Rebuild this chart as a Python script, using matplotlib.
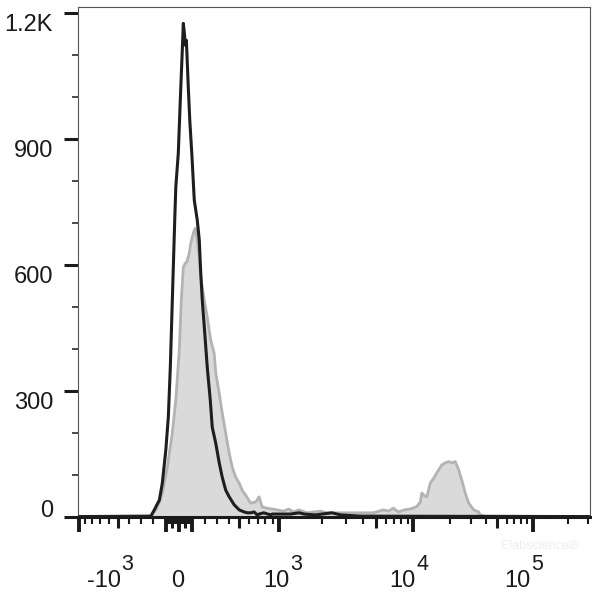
import numpy as np
import matplotlib
matplotlib.use('Agg')
from matplotlib.pyplot import subplots, rcParams
from matplotlib.transforms import ScaledTranslation

rcParams['font.family'] = ['Liberation Sans', 'DejaVu Sans']

# histograms: display channel (0-1024) vs number of events
control_ch = [0, 144, 151, 156, 161, 167, 174, 179, 183, 186, 189, 192, 194, 199,
              204, 207, 209, 211, 213, 215, 216, 219, 222, 226, 231, 237, 241, 244,
              247, 252, 257, 263, 267, 274, 281, 287, 294, 301, 311, 321, 331, 337,
              344, 351, 357, 361, 370, 384, 387, 404, 424, 441, 451, 474, 507, 524,
              564, 1024]
control_counts = [1, 2, 17, 29, 40, 81, 160, 238, 357, 476, 595, 714, 786, 867,
                  1024, 1112, 1176, 1155, 1124, 1136, 1112, 1024, 945, 867, 755, 707, 660, 581,
                  517, 438, 357, 279, 214, 176, 129, 95, 64, 48, 29, 17, 12, 10,
                  10, 12, 5, 7, 10, 5, 7, 7, 7, 10, 7, 5, 10, 5,
                  2, 1]

sample_ch = [0, 144, 154, 160, 167, 172, 177, 182, 187, 194, 201, 205, 209, 213,
             216, 221, 224, 227, 231, 233, 236, 241, 244, 251, 257, 264, 271, 274,
             281, 287, 294, 301, 307, 314, 321, 327, 334, 344, 354, 361, 367, 377,
             387, 397, 410, 420, 430, 440, 457, 484, 497, 524, 557, 590, 610, 620,
             630, 640, 652, 664, 677, 684, 687, 691, 697, 704, 711, 717, 727, 734,
             741, 747, 754, 761, 767, 774, 781, 791, 801, 804, 814, 1024]
sample_counts = [1, 2, 17, 33, 57, 88, 119, 160, 200, 279, 398, 517, 595, 605,
                 607, 629, 652, 667, 683, 688, 667, 619, 571, 517, 476, 421, 390, 343,
                 295, 248, 200, 152, 119, 95, 81, 64, 52, 33, 36, 48, 24, 21,
                 19, 17, 14, 19, 12, 17, 10, 14, 10, 10, 10, 10, 17, 14,
                 21, 12, 17, 19, 25, 36, 57, 52, 48, 81, 93, 105, 124, 129,
                 132, 129, 132, 112, 88, 57, 33, 17, 12, 5, 2, 1]

y_ticks = [0, 300, 600, 900, 1200]
y_labels = ['0', '300', '600', '900', '1.2K']
x_label_values = [-1000, 0, 1000, 10000, 100000]
x_label_base = ['-10', '0', '10', '10', '10']
x_label_exp = ['3', '', '3', '4', '5']

XMIN, XMAX = -2, 1024

# biexponential display: value -> channel
K, P = 90.0, 3.25
C0, GAIN = 200.0, 101.2
d_grid = np.linspace(0, 9, 20001)
v_grid = K * (np.exp(d_grid) - P ** 2 * np.exp(-d_grid / P) + P ** 2 - 1)


def to_channel(v):
    v = np.asarray(v, dtype=float)
    return C0 + GAIN * np.sign(v) * np.interp(np.abs(v), v_grid, d_grid)


def visible(values):
    ch = to_channel(values)
    return ch[(ch >= XMIN) & (ch <= XMAX)]


tall = [0, -100, 100, -1000, 1000, 10000, 100000]
medium = [-500, -50, 50, 500, 5000, 50000]
minor = []
for dec in [10, 100, 1000, 10000, 100000]:
    for k in range(1, 10):
        v = k * dec
        if v in tall or v in medium:
            continue
        minor += [v, -v]

fig, ax = subplots(figsize=(6, 5.92), dpi=100)
fig.subplots_adjust(left=78 / 600, right=590 / 600, bottom=1 - 517 / 592, top=1 - 7 / 592)

ax.fill_between(sample_ch, sample_counts, color='#dadada', lw=0, zorder=1)
ax.plot(sample_ch, sample_counts, color='#b3b3b3', lw=2.0, zorder=2)
ax.plot(control_ch, control_counts, color='#1e1e1e', lw=2.2, zorder=3)

for side in ['left', 'top', 'right']:
    ax.spines[side].set_linewidth(0.8)
    ax.spines[side].set_color('#555555')
ax.spines['bottom'].set_linewidth(2.2)
ax.spines['bottom'].set_color('#1a1a1a')

ax.set_xticks(visible(tall))
ax.set_xticks(visible(minor), minor=True)
ax.set_xticklabels([])
ax.tick_params(axis='x', which='major', length=10.5, width=2.8, color='#1a1a1a')
ax.tick_params(axis='x', which='minor', length=5, width=1.5, color='#1a1a1a')

sec = ax.secondary_xaxis('bottom')
sec.set_xticks(visible(medium))
sec.set_xticklabels([])
sec.spines['bottom'].set_visible(False)
sec.tick_params(axis='x', length=8, width=2.2, color='#1a1a1a')

ax.set_yticks(y_ticks)
ax.set_yticks(np.arange(100, 1201, 100), minor=True)
ax.set_yticklabels([])
ax.tick_params(axis='y', which='major', length=10, width=2.2, color='#1a1a1a')
ax.tick_params(axis='y', which='minor', length=4.3, width=1.1, color='#1a1a1a')

ax.set_xlim(XMIN, XMAX)
ax.set_ylim(0, 1215)

for v, lab in zip(y_ticks, y_labels):
    dy = 0 if v == 0 else -18
    tr = ax.get_yaxis_transform() + ScaledTranslation(-25 / 100, dy / 100, fig.dpi_scale_trans)
    ax.text(0, v, lab, transform=tr, ha='right', va='baseline', fontsize=17, color='#1a1a1a')

label_shift = [42, -1, 10, 2, -2]
for v, base, ex, off in zip(x_label_values, x_label_base, x_label_exp, label_shift):
    c = float(to_channel(v))
    tr = ax.get_xaxis_transform() + ScaledTranslation(off / 100, -70 / 100, fig.dpi_scale_trans)
    if ex:
        ax.text(c, 0, base, transform=tr, ha='right', va='baseline', fontsize=17, color='#1a1a1a')
        tr2 = ax.get_xaxis_transform() + ScaledTranslation((off + 1) / 100, -53 / 100, fig.dpi_scale_trans)
        ax.text(c, 0, ex, transform=tr2, ha='left', va='baseline', fontsize=15.5, color='#1a1a1a')
    else:
        ax.text(c, 0, base, transform=tr, ha='center', va='baseline', fontsize=17, color='#1a1a1a')

fig.text(540 / 600, 1 - 546 / 592, 'Elabscience\u00ae', ha='center', va='center',
         fontsize=9, color='#eeeeee')

fig.savefig('out.png', dpi=100)
